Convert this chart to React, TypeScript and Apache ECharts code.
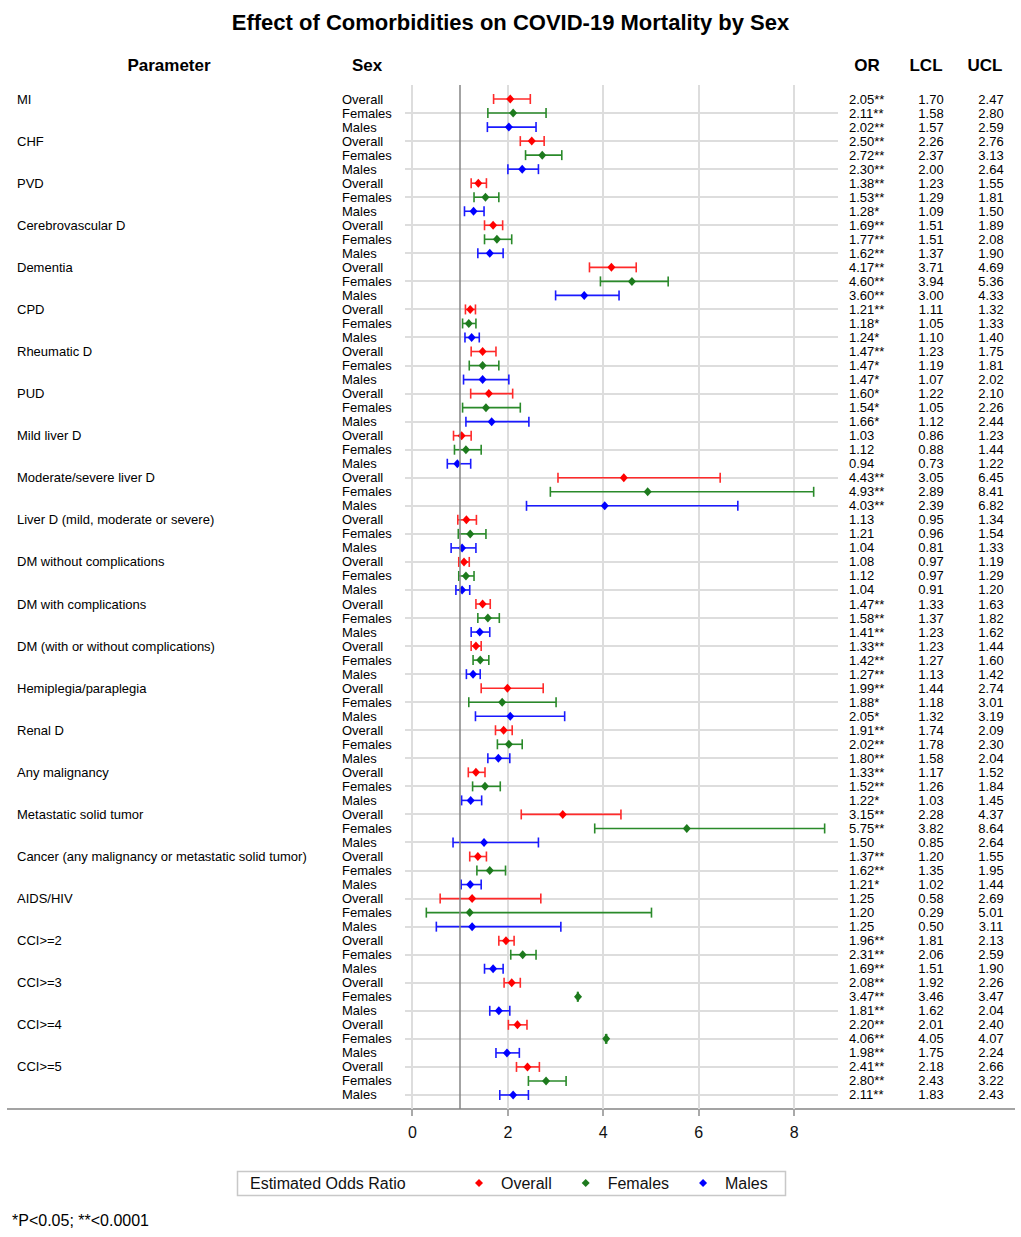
import React, { useEffect, useRef } from "react";
import * as echarts from "echarts";

const TITLE = "Effect of Comorbidities on COVID-19 Mortality by Sex";
const PARAMETERS = [
  "MI", "CHF", "PVD", "Cerebrovascular D", "Dementia", "CPD", "Rheumatic D", "PUD",
  "Mild liver D", "Moderate/severe liver D", "Liver D (mild, moderate or severe)",
  "DM without complications", "DM with complications", "DM (with or without complications)",
  "Hemiplegia/paraplegia", "Renal D", "Any malignancy", "Metastatic solid tumor",
  "Cancer (any malignancy or metastatic solid tumor)", "AIDS/HIV", "CCI>=2", "CCI>=3", "CCI>=4", "CCI>=5",
];
const SEXES = ["Overall", "Females", "Males"];

const OR_OVERALL = [2.05, 2.50, 1.38, 1.69, 4.17, 1.21, 1.47, 1.60, 1.03, 4.43, 1.13, 1.08, 1.47, 1.33, 1.99, 1.91, 1.33, 3.15, 1.37, 1.25, 1.96, 2.08, 2.20, 2.41];
const LCL_OVERALL = [1.70, 2.26, 1.23, 1.51, 3.71, 1.11, 1.23, 1.22, 0.86, 3.05, 0.95, 0.97, 1.33, 1.23, 1.44, 1.74, 1.17, 2.28, 1.20, 0.58, 1.81, 1.92, 2.01, 2.18];
const UCL_OVERALL = [2.47, 2.76, 1.55, 1.89, 4.69, 1.32, 1.75, 2.10, 1.23, 6.45, 1.34, 1.19, 1.63, 1.44, 2.74, 2.09, 1.52, 4.37, 1.55, 2.69, 2.13, 2.26, 2.40, 2.66];
const SIG_OVERALL = [2, 2, 2, 2, 2, 2, 2, 1, 0, 2, 0, 0, 2, 2, 2, 2, 2, 2, 2, 0, 2, 2, 2, 2];

const OR_FEMALES = [2.11, 2.72, 1.53, 1.77, 4.60, 1.18, 1.47, 1.54, 1.12, 4.93, 1.21, 1.12, 1.58, 1.42, 1.88, 2.02, 1.52, 5.75, 1.62, 1.20, 2.31, 3.47, 4.06, 2.80];
const LCL_FEMALES = [1.58, 2.37, 1.29, 1.51, 3.94, 1.05, 1.19, 1.05, 0.88, 2.89, 0.96, 0.97, 1.37, 1.27, 1.18, 1.78, 1.26, 3.82, 1.35, 0.29, 2.06, 3.46, 4.05, 2.43];
const UCL_FEMALES = [2.80, 3.13, 1.81, 2.08, 5.36, 1.33, 1.81, 2.26, 1.44, 8.41, 1.54, 1.29, 1.82, 1.60, 3.01, 2.30, 1.84, 8.64, 1.95, 5.01, 2.59, 3.47, 4.07, 3.22];
const SIG_FEMALES = [2, 2, 2, 2, 2, 1, 1, 1, 0, 2, 0, 0, 2, 2, 1, 2, 2, 2, 2, 0, 2, 2, 2, 2];

const OR_MALES = [2.02, 2.30, 1.28, 1.62, 3.60, 1.24, 1.47, 1.66, 0.94, 4.03, 1.04, 1.04, 1.41, 1.27, 2.05, 1.80, 1.22, 1.50, 1.21, 1.25, 1.69, 1.81, 1.98, 2.11];
const LCL_MALES = [1.57, 2.00, 1.09, 1.37, 3.00, 1.10, 1.07, 1.12, 0.73, 2.39, 0.81, 0.91, 1.23, 1.13, 1.32, 1.58, 1.03, 0.85, 1.02, 0.50, 1.51, 1.62, 1.75, 1.83];
const UCL_MALES = [2.59, 2.64, 1.50, 1.90, 4.33, 1.40, 2.02, 2.44, 1.22, 6.82, 1.33, 1.20, 1.62, 1.42, 3.19, 2.04, 1.45, 2.64, 1.44, 3.11, 1.90, 2.04, 2.24, 2.43];
const SIG_MALES = [2, 2, 1, 2, 2, 1, 1, 1, 0, 2, 0, 0, 2, 2, 1, 2, 1, 0, 1, 0, 2, 2, 2, 2];

const X_TICKS = [0, 2, 4, 6, 8];
const REF_VALUE = 1;
const HEADERS = ["Parameter", "Sex", "OR", "LCL", "UCL"];
const LEGEND_TITLE = "Estimated Odds Ratio";
const FOOTNOTE = "*P<0.05; **<0.0001";

const GROUPS = [
  { name: "Overall", or: OR_OVERALL, lcl: LCL_OVERALL, ucl: UCL_OVERALL, sig: SIG_OVERALL, marker: "#ff0000", line: "#ff2a2a" },
  { name: "Females", or: OR_FEMALES, lcl: LCL_FEMALES, ucl: UCL_FEMALES, sig: SIG_FEMALES, marker: "#1d7a1d", line: "#2a8a2a" },
  { name: "Males", or: OR_MALES, lcl: LCL_MALES, ucl: UCL_MALES, sig: SIG_MALES, marker: "#0000ff", line: "#1a1aff" },
];

const N_ROWS = PARAMETERS.length * SEXES.length;
// faint horizontal gridlines sit on every second row (1, 3, 5, ...)
const GRID_ROWS: number[] = [];
for (let r = 1; r < N_ROWS; r += 2) GRID_ROWS.push(r);

const FONT = "'Liberation Sans', Arial, Helvetica, sans-serif";
const GRID_COLOR = "#dddddd";

const fmt = (v: number) => v.toFixed(2);
const stars = (n: number) => (n === 2 ? "**" : n === 1 ? "*" : "");

// layout (pixels)
const PLOT_TOP = 85;
const PLOT_H = 1024;
const X_MIN = -0.157;
const X_MAX = 8.92;
const PLOT_LEFT = 405;
const PLOT_W = 433;

export default function App() {
  const ref = useRef<HTMLDivElement>(null);
  useEffect(() => {
    const chart = echarts.init(ref.current!, null, { renderer: "svg" });

    const tableRows: any[] = [];
    PARAMETERS.forEach((p, pi) => {
      GROUPS.forEach((g, si) => {
        tableRows.push({
          value: [0, pi * 3 + si],
          param: si === 0 ? p : "",
          sex: SEXES[si],
          or: fmt(g.or[pi]) + stars(g.sig[pi]),
          lcl: fmt(g.lcl[pi]),
          ucl: fmt(g.ucl[pi]),
        });
      });
    });

    const series: any[] = [];

    // background gridlines: horizontal (every second row) and vertical (at tick values) + ticks
    series.push({
      type: "custom",
      name: "grid",
      silent: true,
      clip: false,
      z: 1,
      encode: { x: 0, y: 1 },
      data: [[0, 0]],
      renderItem: (params: any, api: any) => {
        const left = api.coord([X_MIN, 0])[0];
        const right = api.coord([X_MAX, 0])[0];
        const top = api.coord([0, -1])[1];
        const bottom = api.coord([0, N_ROWS])[1];
        const children: any[] = [];
        GRID_ROWS.forEach((r) => {
          const y = Math.round(api.coord([0, r])[1]);
          children.push({
            type: "rect",
            shape: { x: left, y: y - 1, width: right - left, height: 2 },
            style: { fill: GRID_COLOR },
          });
        });
        X_TICKS.forEach((v) => {
          const x = Math.round(api.coord([v, 0])[0]);
          children.push({
            type: "rect",
            shape: { x: x - 1, y: top, width: 2, height: bottom - top },
            style: { fill: GRID_COLOR },
          });
          children.push({
            type: "rect",
            shape: { x: x - 0.75, y: bottom + 1, width: 1.5, height: 6 },
            style: { fill: "#8c8c8c" },
          });
        });
        return { type: "group", children };
      },
    });

    GROUPS.forEach((g, si) => {
      series.push({
        type: "custom",
        name: g.name,
        silent: true,
        z: 3,
        encode: { x: [0, 1], y: 2 },
        data: g.or.map((_, pi) => [g.lcl[pi], g.ucl[pi], pi * 3 + si]),
        itemStyle: { color: g.marker },
        renderItem: (params: any, api: any) => {
          const lo = api.coord([api.value(0), api.value(2)]);
          const hi = api.coord([api.value(1), api.value(2)]);
          const h = 5;
          const st = { stroke: g.line, lineWidth: 1.6 };
          return {
            type: "group",
            children: [
              { type: "line", shape: { x1: lo[0], y1: lo[1], x2: hi[0], y2: hi[1] }, style: st },
              { type: "line", shape: { x1: lo[0], y1: lo[1] - h, x2: lo[0], y2: lo[1] + h }, style: st },
              { type: "line", shape: { x1: hi[0], y1: hi[1] - h, x2: hi[0], y2: hi[1] + h }, style: st },
            ],
          };
        },
      });
      series.push({
        type: "scatter",
        name: g.name,
        silent: true,
        z: 4,
        symbol: "diamond",
        symbolSize: [8, 9],
        itemStyle: { color: g.marker, opacity: 1 },
        data: g.or.map((v, pi) => [v, pi * 3 + si]),
        ...(si === 0
          ? {
              markLine: {
                silent: true,
                symbol: ["none", "none"],
                label: { show: false },
                lineStyle: { color: "#858585", width: 1.5, type: "solid" },
                data: [{ xAxis: REF_VALUE }],
              },
            }
          : {}),
      });
    });

    series.push({
      type: "custom",
      name: "table",
      silent: true,
      clip: false,
      encode: { x: 0, y: 1 },
      data: tableRows,
      renderItem: (params: any, api: any) => {
        const row = tableRows[params.dataIndex];
        const y = api.coord([0, api.value(1)])[1];
        const mk = (x: number, text: string, align: string) => ({
          type: "text",
          x,
          y,
          style: {
            text,
            fill: "#000",
            fontSize: 13,
            fontFamily: FONT,
            align,
            verticalAlign: "middle",
          },
        });
        const children: any[] = [
          mk(342, row.sex, "left"),
          mk(849, row.or, "left"),
          mk(931, row.lcl, "center"),
          mk(991, row.ucl, "center"),
        ];
        if (row.param) children.push(mk(17, row.param, "left"));
        return { type: "group", children };
      },
    });

    const headerX = [169, 367, 867, 926, 985];

    const option: any = {
      animation: false,
      backgroundColor: "#ffffff",
      title: {
        text: TITLE,
        left: "center",
        top: 6,
        textStyle: { fontSize: 22, fontWeight: "bold", color: "#000", fontFamily: FONT },
      },
      grid: { left: PLOT_LEFT, top: PLOT_TOP, width: PLOT_W, height: PLOT_H },
      xAxis: {
        type: "value",
        min: X_MIN,
        max: X_MAX,
        axisLine: { show: false, onZero: false },
        axisTick: { show: false },
        axisLabel: {
          show: true,
          customValues: X_TICKS,
          fontSize: 16,
          color: "#111",
          margin: 15,
          fontFamily: FONT,
        },
        splitLine: { show: false },
      },
      yAxis: {
        type: "value",
        inverse: true,
        min: -1,
        max: N_ROWS,
        axisLine: { show: false, onZero: false },
        axisTick: { show: false },
        axisLabel: { show: false },
        splitLine: { show: false },
      },
      legend: {
        left: 475,
        top: 1175,
        padding: 0,
        itemWidth: 8,
        itemHeight: 8,
        itemGap: 30,
        selectedMode: false,
        textStyle: { fontSize: 16, color: "#111", fontFamily: FONT, padding: [0, 0, 0, 13] },
        data: GROUPS.map((g) => ({ name: g.name, icon: "diamond" })),
      },
      graphic: [
        {
          type: "line",
          silent: true,
          shape: { x1: 7, y1: PLOT_TOP + PLOT_H, x2: 1015, y2: PLOT_TOP + PLOT_H },
          style: { stroke: "#a3a3a3", lineWidth: 2 },
        },
        ...HEADERS.map((h, i) => ({
          type: "text",
          x: headerX[i],
          y: 65,
          silent: true,
          style: {
            text: h,
            fill: "#000",
            fontSize: 17,
            fontWeight: "bold",
            fontFamily: FONT,
            align: "center",
            verticalAlign: "middle",
          },
        })),
        {
          type: "rect",
          silent: true,
          shape: { x: 237.5, y: 1171.5, width: 548, height: 24 },
          style: { fill: "none", stroke: "#c8c8c8", lineWidth: 1.5 },
        },
        {
          type: "text",
          x: 250,
          y: 1183.5,
          silent: true,
          style: {
            text: LEGEND_TITLE,
            fill: "#111",
            fontSize: 16,
            fontFamily: FONT,
            align: "left",
            verticalAlign: "middle",
          },
        },
        {
          type: "text",
          x: 12,
          y: 1220,
          silent: true,
          style: {
            text: FOOTNOTE,
            fill: "#000",
            fontSize: 16,
            fontFamily: FONT,
            align: "left",
            verticalAlign: "middle",
          },
        },
      ],
      series,
    };

    chart.setOption(option);
    return () => chart.dispose();
  }, []);

  return (
    <div
      ref={ref}
      style={{ position: "fixed", left: 0, top: 0, width: 1021, height: 1237, background: "#fff" }}
    />
  );
}
